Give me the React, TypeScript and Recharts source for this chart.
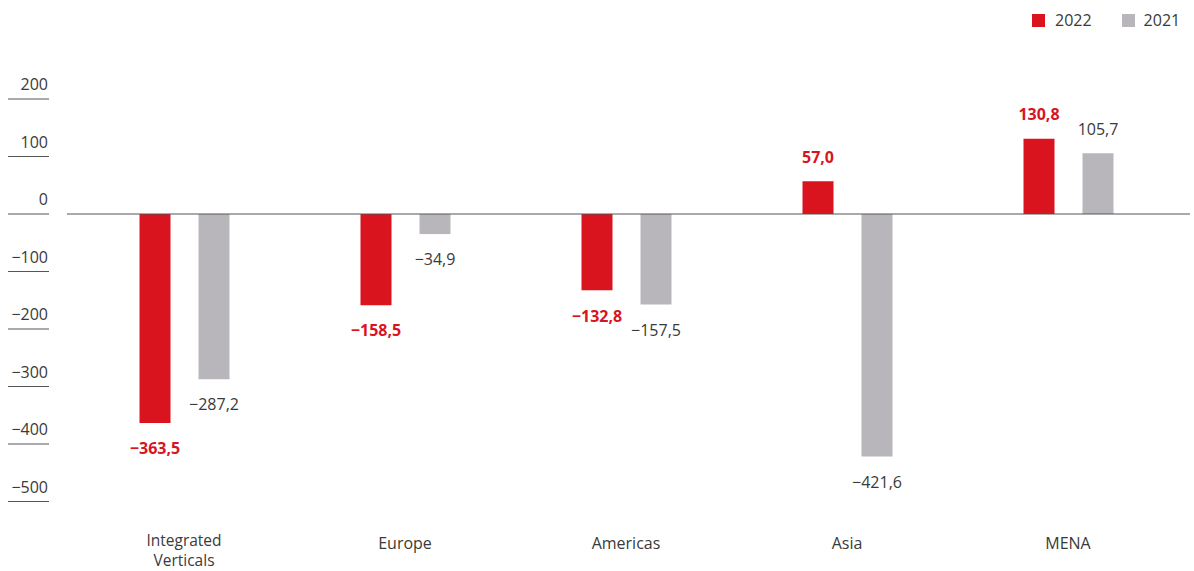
import React from "react";
import { BarChart, Bar, XAxis, YAxis, ReferenceLine, LabelList } from "recharts";

const categories = ["Integrated Verticals", "Europe", "Americas", "Asia", "MENA"];
const values2022 = [-363.5, -158.5, -132.8, 57.0, 130.8];
const values2021 = [-287.2, -34.9, -157.5, -421.6, 105.7];
const yTicks = [200, 100, 0, -100, -200, -300, -400, -500];
const seriesNames = ["2022", "2021"];

const data = categories.map((c, i) => ({ name: c, y2022: values2022[i], y2021: values2021[i] }));

const RED = "#d9141f";
const GRAY = "#b8b6ba";
const TEXT = "#3a3a3a";
const FONT = "'Open Sans', 'Noto Sans', sans-serif";

const fmt = (v: number) => v.toFixed(1).replace(".", ",").replace("-", "\u2212");
const fmtTick = (v: number) => String(v).replace("-", "\u2212");

const YTick = (props: any) => {
  const { y, payload } = props;
  return (
    <g>
      <text x={48} y={y - 13} textAnchor="end" dominantBaseline="middle" fontFamily={FONT} fontSize={16} fill={TEXT}>
        {fmtTick(payload.value)}
      </text>
      <line x1={8} x2={49} y1={y} y2={y} stroke="#555" strokeWidth={1} />
    </g>
  );
};

const XTick = (props: any) => {
  const { x, y, payload } = props;
  const words = String(payload.value).split(" ");
  const multi = words.length > 1;
  return (
    <g>
      {words.map((w, i) => (
        <text
          key={i}
          x={x}
          y={y + (multi ? 40.5 : 43) + i * 20}
          textAnchor="middle"
          dominantBaseline="middle"
          fontFamily={FONT}
          fontSize={multi ? 15.5 : 16}
          fill={TEXT}
        >
          {w}
        </text>
      ))}
    </g>
  );
};

const makeLabel = (color: string, bold: boolean) => (props: any) => {
  const { x, y, width, height, value } = props;
  const top = Math.min(y, y + height);
  const bottom = Math.max(y, y + height);
  const ty = value < 0 ? bottom + 27 : top - 23;
  return (
    <text x={x + width / 2} y={ty} textAnchor="middle" dominantBaseline="middle" fontFamily={FONT} fontSize={16} fontWeight={bold ? 700 : 400} fill={color}>
      {fmt(value)}
    </text>
  );
};

export default function App() {
  return (
    <div style={{ position: "absolute", left: 0, top: 0, width: 1194, height: 571, background: "#fff" }}>
      <div
        style={{
          position: "absolute",
          left: 1032,
          top: 10,
          display: "flex",
          alignItems: "center",
          fontFamily: FONT,
          fontSize: 16,
          color: TEXT,
          lineHeight: "21px",
        }}
      >
        <span style={{ width: 13, height: 13, background: RED, display: "inline-block", marginRight: 10 }} />
        <span style={{ marginRight: 30 }}>{seriesNames[0]}</span>
        <span style={{ width: 13, height: 13, background: GRAY, display: "inline-block", marginRight: 9 }} />
        <span>{seriesNames[1]}</span>
      </div>
      <BarChart
        width={1194}
        height={571}
        data={data}
        margin={{ top: 99, right: 4, bottom: 0, left: 0 }}
        barSize={31}
        barGap={28}
      >
        <XAxis
          dataKey="name"
          axisLine={false}
          tickLine={false}
          tickSize={0}
          tickMargin={0}
          padding={{ left: 6.5, right: 11.5 }}
          tick={<XTick />}
          interval={0}
          height={69.5}
        />
        <YAxis
          domain={[-500, 200]}
          ticks={yTicks}
          axisLine={false}
          tickLine={false}
          width={67}
          tick={<YTick />}
          interval={0}
        />
        <ReferenceLine y={0} stroke="#555" strokeWidth={1} />
        <Bar dataKey="y2022" fill={RED} isAnimationActive={false}>
          <LabelList dataKey="y2022" content={makeLabel(RED, true)} />
        </Bar>
        <Bar dataKey="y2021" fill={GRAY} isAnimationActive={false}>
          <LabelList dataKey="y2021" content={makeLabel(TEXT, false)} />
        </Bar>
      </BarChart>
    </div>
  );
}
